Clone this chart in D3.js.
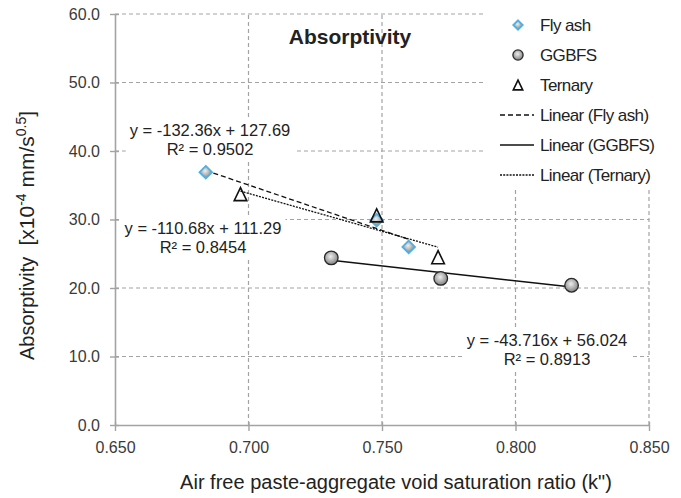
<!DOCTYPE html>
<html><head><meta charset="utf-8">
<script src="https://cdn.jsdelivr.net/npm/d3@7"></script>
<style>body{margin:0;background:#fff} svg{display:block}</style>
</head><body><svg id="c" width="681" height="498"></svg>
<script>
const seriesNames = ["Fly ash", "GGBFS", "Ternary"];
const flyAshX = [0.684, 0.748, 0.760];
const flyAshY = [36.9, 29.9, 26.0];
const ggbfsX = [0.731, 0.772, 0.821];
const ggbfsY = [24.4, 21.4, 20.4];
const ternaryX = [0.697, 0.748, 0.771];
const ternaryY = [33.7, 30.6, 24.5];
const slopes = [-132.36, -43.716, -110.68];
const intercepts = [127.69, 56.024, 111.29];
const rSquared = ["0.9502", "0.8913", "0.8454"];
const xTicks = [0.65, 0.70, 0.75, 0.80, 0.85];
const yTicks = [0, 10, 20, 30, 40, 50, 60];

const svg = d3.select("#c");
const FONT = "'Liberation Sans', Arial, sans-serif";
const x = d3.scaleLinear().domain([0.65, 0.85]).range([115, 649]);
const y = d3.scaleLinear().domain([0, 60]).range([425, 14]);
const GRID = "#a3a3a3";

const defs = svg.append("defs");
const g1 = defs.append("radialGradient").attr("id", "gr").attr("cx", "45%").attr("cy", "40%").attr("r", "60%");
g1.append("stop").attr("offset", "0%").attr("stop-color", "#eeeeee");
g1.append("stop").attr("offset", "100%").attr("stop-color", "#808080");

// gridlines
svg.append("g").selectAll("line").data(yTicks.filter(d => d > 0)).join("line")
  .attr("x1", x(0.65)).attr("x2", x(0.85)).attr("y1", d => y(d)).attr("y2", d => y(d))
  .attr("stroke", GRID).attr("stroke-width", 1.2).attr("stroke-dasharray", "4,3");
svg.append("g").selectAll("line").data(xTicks.filter(d => d > 0.65)).join("line")
  .attr("x1", d => x(d)).attr("x2", d => x(d)).attr("y1", y(0)).attr("y2", y(60))
  .attr("stroke", GRID).attr("stroke-width", 1.2).attr("stroke-dasharray", "4,3");

// axes
const xAxis = d3.axisBottom(x).tickValues(xTicks).tickFormat(d3.format(".3f")).tickSizeInner(6).tickSizeOuter(0).tickPadding(11);
const gx = svg.append("g").attr("transform", `translate(0,${y(0)})`).call(xAxis);
const yAxis = d3.axisLeft(y).tickValues(yTicks).tickFormat(d3.format(".1f")).tickSizeInner(5).tickSizeOuter(0).tickPadding(10);
const gy = svg.append("g").attr("transform", `translate(${x(0.65)},0)`).call(yAxis);
[gx, gy].forEach(g => {
  g.select(".domain").attr("stroke", GRID).attr("stroke-width", 1.6);
  g.selectAll(".tick line").attr("stroke", GRID).attr("stroke-width", 1.4);
  g.selectAll(".tick text").attr("font-family", FONT).attr("font-size", 16).attr("fill", "#3a3a3a");
});
gx.selectAll(".tick line").attr("y1", -3);
gy.selectAll(".tick line").attr("x1", 4);

// data series
const series = [
  {xs: flyAshX, ys: flyAshY, dash: "5,3"},
  {xs: ggbfsX, ys: ggbfsY, dash: null},
  {xs: ternaryX, ys: ternaryY, dash: "2,1.2"}
];

// equation labels with white background
const labelPos = [[210, 136], [547, 346], [203, 234]];
const labG = svg.append("g");
series.forEach((s, i) => {
  const gg = labG.append("g");
  const t1 = gg.append("text").attr("x", labelPos[i][0]).attr("y", labelPos[i][1])
    .attr("text-anchor", "middle").attr("font-family", FONT).attr("font-size", 16.5).attr("fill", "#222")
    .text(`y = ${slopes[i]}x + ${intercepts[i]}`);
  const t2 = gg.append("text").attr("x", labelPos[i][0]).attr("y", labelPos[i][1] + 19)
    .attr("text-anchor", "middle").attr("font-family", FONT).attr("font-size", 16.5).attr("fill", "#222")
    .text(`R² = ${rSquared[i]}`);
  const b1 = t1.node().getBBox(), b2 = t2.node().getBBox();
  const x0 = Math.min(b1.x, b2.x) - 4, x1 = Math.max(b1.x + b1.width, b2.x + b2.width) + 4;
  gg.insert("rect", "text").attr("x", x0).attr("y", b1.y - 3).attr("width", x1 - x0)
    .attr("height", b2.y + b2.height - b1.y + 4).attr("fill", "#fff");
});

// trend lines
series.forEach((s, i) => {
  const ext = d3.extent(s.xs);
  svg.append("line")
    .attr("x1", x(ext[0])).attr("y1", y(slopes[i] * ext[0] + intercepts[i]))
    .attr("x2", x(ext[1])).attr("y2", y(slopes[i] * ext[1] + intercepts[i]))
    .attr("stroke", "#111").attr("stroke-width", i === 1 ? 1.5 : 1.3)
    .attr("stroke-dasharray", s.dash);
});

function drawMarker(g, type, cx, cy, sc) {
  if (type === 0) {
    const h = 6.3 * sc;
    g.append("path").attr("d", `M${cx},${cy - h}L${cx + h},${cy}L${cx},${cy + h}L${cx - h},${cy}Z`)
      .attr("fill", "url(#gr)").attr("stroke", "#4fb0e6").attr("stroke-width", 1.8);
  } else if (type === 1) {
    g.append("circle").attr("cx", cx).attr("cy", cy).attr("r", 6.8 * sc)
      .attr("fill", "url(#gr)").attr("stroke", "#2a2a2a").attr("stroke-width", 1.3);
  } else {
    const w = 6.3 * sc, h = 6.5 * sc;
    g.append("path").attr("d", `M${cx},${cy - h}L${cx + w},${cy + h}L${cx - w},${cy + h}Z`)
      .attr("fill", "none").attr("stroke", "#111").attr("stroke-width", 1.6);
  }
}
const markG = svg.append("g");
[1, 0, 2].forEach(i => {
  series[i].xs.forEach((xv, j) => drawMarker(markG, i, x(xv), y(series[i].ys[j]), 1));
});

// title
svg.append("text").attr("x", 350).attr("y", 44).attr("text-anchor", "middle")
  .attr("font-family", FONT).attr("font-weight", "bold").attr("font-size", 21).attr("fill", "#222")
  .text("Absorptivity");

// legend
const lg = svg.append("g");
lg.append("rect").attr("x", 486).attr("y", 0).attr("width", 195).attr("height", 188).attr("fill", "#fff");
const legendLabels = seriesNames.concat(seriesNames.map(n => `Linear (${n})`));
legendLabels.forEach((lab, k) => {
  const cy = 25 + k * 30;
  if (k < 3) drawMarker(lg, k, 518, cy, 0.75);
  else {
    lg.append("line").attr("x1", 500).attr("x2", 534).attr("y1", cy).attr("y2", cy)
      .attr("stroke", "#111").attr("stroke-width", k === 4 ? 1.5 : 1.3)
      .attr("stroke-dasharray", series[k - 3].dash);
  }
  lg.append("text").attr("x", 540).attr("y", cy + 6).attr("font-family", FONT)
    .attr("font-size", 17).attr("letter-spacing", -0.6).attr("fill", "#222").text(lab);
});

// axis titles
svg.append("text").attr("x", 396).attr("y", 489).attr("text-anchor", "middle")
  .attr("font-family", FONT).attr("font-size", 20).attr("fill", "#222")
  .text("Air free paste-aggregate void saturation ratio (k\")");
const yt = svg.append("text").attr("transform", "translate(34,360) rotate(-90)").attr("text-anchor", "start")
  .attr("font-family", FONT).attr("font-size", 20).attr("fill", "#222");
yt.append("tspan").text("Absorptivity\u00a0\u00a0");
yt.append("tspan").attr("font-size", 21).text("[x10");
yt.append("tspan").attr("font-size", 14).attr("dy", -8).text("-4");
yt.append("tspan").attr("font-size", 21).attr("dy", 8).text("\u00a0mm/s");
yt.append("tspan").attr("font-size", 14).attr("dy", -8).text("0.5");
yt.append("tspan").attr("font-size", 21).attr("dy", 8).text("]");
</script></body></html>
